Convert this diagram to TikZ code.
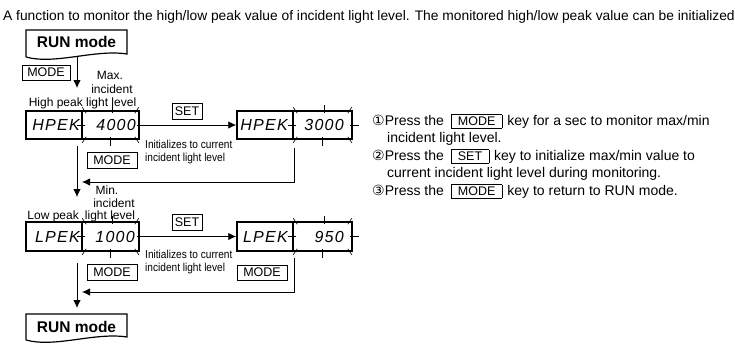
\documentclass[tikz,border=0pt]{standalone}
\usepackage{fontspec}
\usepackage{graphicx}
\setmainfont{Liberation Sans}
\newfontfamily\circfont{DejaVu Sans}
\newfontfamily\segfont[LetterSpace=8]{Liberation Sans}
\usetikzlibrary{arrows.meta}
\newcommand\fs[1]{\fontsize{#1}{#1}\selectfont}
\newcommand\keyb[1]{\hspace{3pt}{\setlength\fboxsep{0pt}\setlength\fboxrule{0.6pt}\fbox{\hspace{6.5pt}\rule[-2.8pt]{0pt}{13pt}\fs{12.5}#1\hspace{6.5pt}}}\hspace{1pt}}
\newcommand\blink[1]{%
  \draw[tick] ([shift={(1,-3)}]#1.north west) -- ([shift={(5,3)}]#1.north west);
  \draw[tick] ([shift={(-1,-3)}]#1.north east) -- ([shift={(-5,3)}]#1.north east);
  \draw[tick] ([shift={(1,3)}]#1.south west) -- ([shift={(5,-3)}]#1.south west);
  \draw[tick] ([shift={(-1,3)}]#1.south east) -- ([shift={(-5,-3)}]#1.south east);
  \draw[tick] ([shift={(2,-5)}]#1.north) -- ([shift={(2,3)}]#1.north);
  \draw[tick] ([shift={(0,-3)}]#1.south) -- ([shift={(0,6)}]#1.south);
  \draw[tick] ([shift={(-4,0)}]#1.west) -- ([shift={(4,0)}]#1.west);
  \draw[tick] ([shift={(-3,0)}]#1.east) -- ([shift={(6,0)}]#1.east);
}
\begin{document}
\begin{tikzpicture}[x=1pt,y=-1pt,
  conn/.style={line width=0.8pt,draw=black},
  arr/.style={conn,-{Latex[length=8pt,width=7.5pt]}},
  keynode/.style={draw,line width=0.7pt,inner sep=0pt,font=\fs{12.5}},
  disp/.style={draw,line width=1.5pt,inner sep=0pt},
  segt/.style={inner sep=0pt,font=\segfont\itshape\fs{16}},
  tick/.style={line width=0.6pt},
  lbl/.style={inner sep=0pt,font=\fs{12},anchor=base},
  initt/.style={inner sep=0pt,font=\fs{11.5},anchor=base west},
  txt/.style={inner sep=0pt,font=\fs{14},anchor=base west},
  runbox/.style={line width=1.2pt},
  runt/.style={inner sep=0pt,font=\bfseries\fs{15.5},anchor=base}
]
\useasboundingbox (0,0) rectangle (735,346);

% title line
\node[txt,font=\fs{13.8}] (title) at (3,20) {A function to monitor the high/low peak value of incident light level. The monitored high/low peak value can be initialized};

% RUN mode boxes
\draw[runbox] (26,57) -- (26,30) -- (127,30) -- (127,54) .. controls (95,49) and (55,65) .. (26,57);
\node[runt] (run1) at (76.5,47) {RUN mode};
\draw[runbox] (26,340) -- (26,314) -- (127,314) -- (127,337) .. controls (95,332) and (55,348) .. (26,340);
\node[runt] (run2) at (76.5,332) {RUN mode};

% key boxes
\node[keynode,minimum width=48pt,minimum height=15pt] (mode1) at (46,72.5) {MODE};
\node[keynode,minimum width=30pt,minimum height=16pt] (set1) at (187,111) {SET};
\node[keynode,minimum width=50pt,minimum height=16pt] (mode2) at (112,160) {MODE};
\node[keynode,minimum width=30pt,minimum height=16pt] (set2) at (187,222) {SET};
\node[keynode,minimum width=50pt,minimum height=16pt] (mode3) at (112,272) {MODE};
\node[keynode,minimum width=50pt,minimum height=15pt] (mode4) at (262,272.5) {MODE};

% labels
\node[lbl] (max) at (110,79) {Max.};
\node[lbl] (inc1) at (112,93) {incident};
\node[lbl] (hpl) at (82.5,106) {High peak light level};
\node[lbl] (min) at (107,194) {Min.};
\node[lbl] (inc2) at (114,207) {incident};
\node[lbl] (ll) at (110,219) {light level};
\node[lbl,anchor=base east] (lp) at (79,219) {Low peak};

% displays
\node[disp,minimum width=56pt,minimum height=28pt] (d1a) at (54,125) {};
\node[disp,minimum width=57pt,minimum height=28pt] (d1b) at (110.5,125) {};
\node[disp,minimum width=56pt,minimum height=28pt] (d2a) at (265,125) {};
\node[disp,minimum width=59pt,minimum height=28pt] (d2b) at (322.5,125) {};
\node[disp,minimum width=56pt,minimum height=29pt] (d3a) at (54,236.5) {};
\node[disp,minimum width=57pt,minimum height=29pt] (d3b) at (110.5,236.5) {};
\node[disp,minimum width=56pt,minimum height=29pt] (d4a) at (265,236.5) {};
\node[disp,minimum width=59pt,minimum height=29pt] (d4b) at (322.5,236.5) {};

\node[segt,anchor=east] (d1at) at (80,125) {HPEK};
\node[segt,anchor=east] (d1bt) at (136,125) {4000};
\node[segt,anchor=east] (d2at) at (288,125) {HPEK};
\node[segt,anchor=east] (d2bt) at (344,125) {3000};
\node[segt,anchor=east] (d3at) at (80,236.5) {LPEK};
\node[segt,anchor=east] (d3bt) at (135,236.5) {1000};
\node[segt,anchor=east] (d4at) at (288,236.5) {LPEK};
\node[segt,anchor=east] (d4bt) at (344,236.5) {950};

\blink{d1b}
\blink{d2b}
\blink{d3b}
\blink{d4b}

% initialize notes
\node[initt] (in1a) at (145,148) {\scalebox{0.88}[1]{Initializes to current}};
\node[initt] (in1b) at (145,161) {\scalebox{0.88}[1]{incident light level}};
\node[initt] (in2a) at (145,258) {\scalebox{0.88}[1]{Initializes to current}};
\node[initt] (in2b) at (145,271) {\scalebox{0.88}[1]{incident light level}};

% connectors
\coordinate (r1b) at (77,57);
\coordinate (a1) at (77,88);
\coordinate (v2s) at (77,146);
\coordinate (a2) at (77,197);
\coordinate (v3s) at (77,263);
\coordinate (a3) at (77,308);
\draw[arr] (r1b) -- (a1);
\draw[arr] (v2s) -- (a2);
\draw[arr] (v3s) -- (a3);
\draw[arr] (d1b.east) -- (d2a.west);
\draw[arr] (d3b.east) -- (d4a.west);
\coordinate (r1s) at (294,148);
\coordinate (r1e) at (82,182);
\coordinate (r2s) at (294,258);
\coordinate (r2e) at (82,292);
\draw[arr] (r1s) |- (r1e);
\draw[arr] (r2s) |- (r2e);

% instructions
\node[txt] (l1) at (372,125) {{\circfont\fs{14}①}Press the \keyb{MODE} key for a sec to monitor max/min};
\node[txt] (l2) at (387,142) {incident light level.};
\node[txt] (l3) at (372,160) {{\circfont\fs{14}②}Press the \keyb{SET} key to initialize max/min value to};
\node[txt] (l4) at (387,177) {current incident light level during monitoring.};
\node[txt] (l5) at (372,195) {{\circfont\fs{14}③}Press the \keyb{MODE} key to return to RUN mode.};
\end{tikzpicture}
\end{document}
